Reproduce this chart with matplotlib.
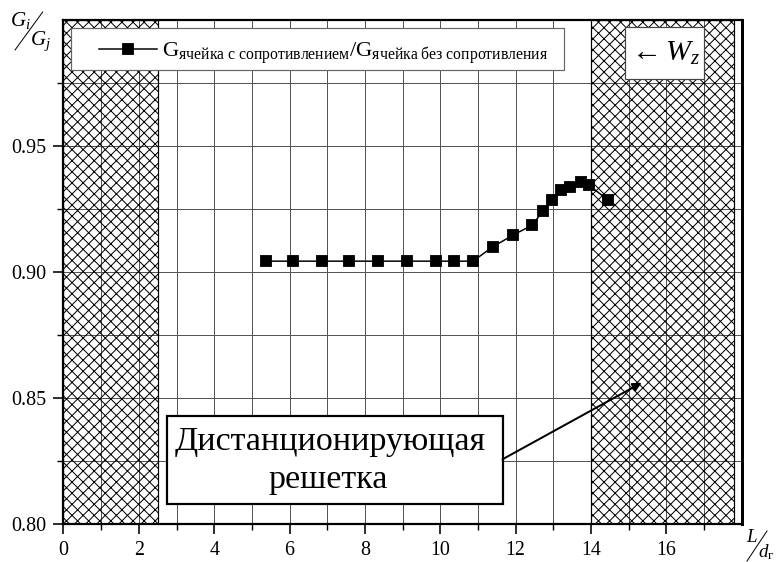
import matplotlib
matplotlib.use("Agg")
import matplotlib.pyplot as plt
from matplotlib.lines import Line2D
from matplotlib.patches import Rectangle

# ---------------- data ----------------
x_pos = [5.37, 6.09, 6.85, 7.59, 8.35, 9.12, 9.90, 10.38, 10.87,
         11.41, 11.93, 12.45, 12.73, 12.97, 13.20, 13.46, 13.73, 13.94, 14.46]
g_ratio = [0.9042, 0.9042, 0.9042, 0.9042, 0.9042, 0.9042, 0.9042, 0.9042, 0.9042,
           0.9100, 0.9145, 0.9185, 0.9242, 0.9284, 0.9325, 0.9335, 0.9357, 0.9344, 0.9284]
x_ticks = [0, 2, 4, 6, 8, 10, 12, 14, 16]
y_ticks = [0.80, 0.85, 0.90, 0.95]
hatch_left = (0.0, 2.5)
hatch_right = (14.0, 17.8)
legend_label = (r'G$_{\mathrm{ячейка\ с\ сопротивлением}}$'
                r'/G$_{\mathrm{ячейка\ без\ сопротивления}}$')
box_lines = ['Дистанционирующая', 'решетка']

# ---------------- style ----------------
DPI = 133
PT = 72.0 / DPI          # points per pixel
W, H = 777, 562

plt.rcParams['font.family'] = ['Liberation Serif', 'DejaVu Serif']
plt.rcParams['mathtext.fontset'] = 'custom'
plt.rcParams['mathtext.rm'] = 'Liberation Serif'
plt.rcParams['mathtext.it'] = 'Liberation Serif:italic'
plt.rcParams['mathtext.bf'] = 'Liberation Serif:bold'
plt.rcParams['hatch.linewidth'] = 1.0 * PT
plt.rcParams['hatch.color'] = 'black'

fig = plt.figure(figsize=(W / DPI, H / DPI), dpi=DPI)


def fx(px):
    return px / W


def fy(py):
    return 1 - py / H


ax = fig.add_axes([fx(63.5), fy(524), (741.5 - 63.5) / W, (524 - 19.5) / H])
ax.set_xlim(0, 18)
ax.set_ylim(0.80, 1.00)

# hatched regions
for (a, b) in (hatch_left, hatch_right):
    ax.axvspan(a, b, facecolor='none', edgecolor='black', hatch='xxxx',
               lw=1.2 * PT, zorder=1)

# grid
ax.set_xticks(x_ticks)
ax.set_xticks(range(1, 18, 2), minor=True)
ax.set_yticks(y_ticks)
ax.set_yticks([0.825, 0.875, 0.925, 0.975], minor=True)
ax.yaxis.set_major_formatter(matplotlib.ticker.FormatStrFormatter('%.2f'))
ax.grid(True, which='both', color='#555555', lw=1.0 * PT, zorder=0.5)
ax.set_axisbelow(True)

ax.tick_params(axis='both', which='major', direction='out', length=10 * PT,
               width=1.6 * PT, labelsize=20 * PT, pad=7 * PT)
ax.tick_params(axis='both', which='minor', direction='out', length=6 * PT,
               width=1.4 * PT)
ax.tick_params(top=False, right=False, which='both')

for s in ('left', 'bottom', 'top'):
    ax.spines[s].set_linewidth(2.2 * PT)
ax.spines['right'].set_linewidth(3.0 * PT)

# data
ax.plot(x_pos, g_ratio, color='black', lw=1.5 * PT, marker='s',
        markersize=10.5 * PT, markerfacecolor='black', markeredgecolor='black',
        zorder=5)

# legend (drawn manually)
fig.patches.append(Rectangle((fx(71), fy(70)), fx(564) - fx(71), fy(28) - fy(70),
                             transform=fig.transFigure, facecolor='white',
                             edgecolor='#666666', lw=1.2 * PT, zorder=6))
fig.lines.append(Line2D([fx(99), fx(128), fx(157)], [fy(49)] * 3,
                        transform=fig.transFigure, color='black', lw=1.5 * PT,
                        marker='s', markersize=10.5 * PT, markevery=[1],
                        zorder=7))
fig.text(fx(162), fy(57), legend_label, fontsize=22.5 * PT, ha='left',
         va='baseline', zorder=7)

# W_z box
fig.patches.append(Rectangle((fx(625), fy(79)), fx(704) - fx(625), fy(27) - fy(79),
                             transform=fig.transFigure, facecolor='white',
                             edgecolor='#444444', lw=1.2 * PT, zorder=6))
fig.text(fx(664), fy(53), r'$\leftarrow W_z$', fontsize=30 * PT, ha='center',
         va='center', zorder=7)

# annotation box
def dx(px):
    return (px - 63.5) / ((741.5 - 63.5) / 18)


def dy(py):
    return 0.80 + (524 - py) / ((524 - 19.5) / 0.2)


ax.add_patch(Rectangle((dx(167), dy(503.5)), dx(502.5) - dx(167),
                       dy(416) - dy(503.5), facecolor='white',
                       edgecolor='black', lw=2.2 * PT, zorder=6))
ax.text(dx(330), dy(450), box_lines[0], fontsize=34 * PT, ha='center',
        va='baseline', zorder=7)
ax.text(dx(328), dy(488), box_lines[1], fontsize=34 * PT, ha='center',
        va='baseline', zorder=7)
ax.annotate('', xy=(dx(641.7), dy(382.7)), xytext=(dx(502.5), dy(459.3)),
            arrowprops=dict(arrowstyle='-|>', color='black', lw=2.0 * PT,
                            mutation_scale=18 * PT, shrinkA=0, shrinkB=0),
            zorder=7)

# y label: G_i / G_j
fig.text(fx(10), fy(26), r'$G_i$', fontsize=21 * PT, ha='left', va='baseline')
fig.text(fx(30), fy(45), r'$G_j$', fontsize=21 * PT, ha='left', va='baseline')
fig.lines.append(Line2D([fx(42.7), fx(15)], [fy(12), fy(50)],
                        transform=fig.transFigure, color='black', lw=1.0 * PT))

# x label: L / d_г
fig.text(fx(746), fy(542), r'$L$', fontsize=19 * PT, ha='left', va='baseline')
fig.text(fx(758), fy(557), r'$d_{\mathrm{г}}$', fontsize=19 * PT, ha='left',
         va='baseline')
fig.lines.append(Line2D([fx(767), fx(747)], [fy(531), fy(561)],
                        transform=fig.transFigure, color='black', lw=1.0 * PT))

fig.savefig('out.png', dpi=DPI)
